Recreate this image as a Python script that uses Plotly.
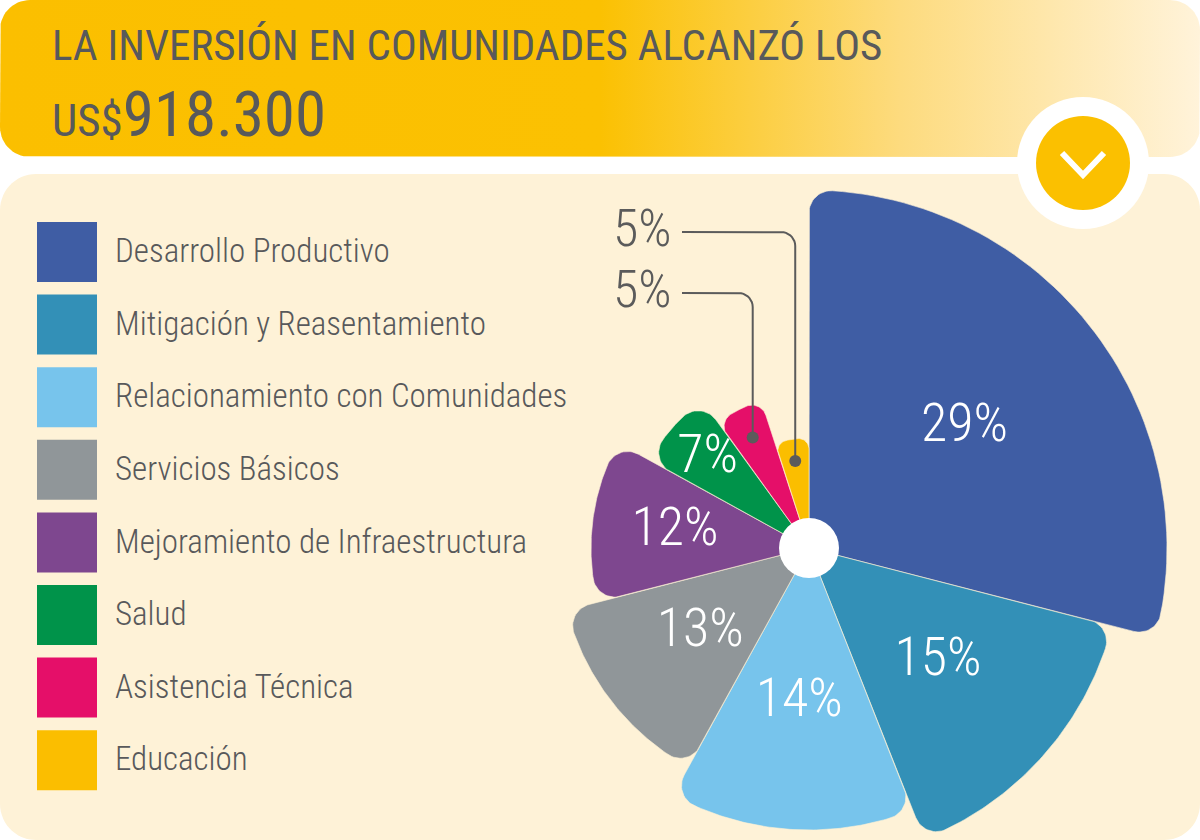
import numpy as np
import plotly.graph_objects as go

# ---------------- data ----------------
categories = ["Desarrollo Productivo", "Mitigación y Reasentamiento",
              "Relacionamiento con Comunidades", "Servicios Básicos",
              "Mejoramiento de Infraestructura", "Salud",
              "Asistencia Técnica", "Educación"]
shares = [29, 15, 14, 13, 12, 7, 5, 5]
slice_radius = [358, 313, 282, 250, 218, 182, 155, 110]
colors = ["#3F5DA4", "#3390B7", "#77C4EC", "#909699",
          "#7E478F", "#00934A", "#E50F69", "#FBBE00"]
title_line1 = "LA INVERSIÓN EN COMUNIDADES ALCANZÓ LOS"
currency = "US$"
total = "918.300"

FONT = "Roboto Condensed, Roboto, sans-serif"
GRAY = "#58595B"
W, H = 1200, 840
CX, CY = 809, 548   # pie centre in axis units (= pixels)


def rounded_rect(x0, y0, x1, y1, r, n=16):
    xs, ys = [], []
    for cx, cy, a0, a1 in [(x1 - r, y0 + r, -90, 0), (x1 - r, y1 - r, 0, 90),
                           (x0 + r, y1 - r, 90, 180), (x0 + r, y0 + r, 180, 270)]:
        for a in np.linspace(a0, a1, n):
            xs.append(cx + r * np.cos(np.radians(a)))
            ys.append(cy + r * np.sin(np.radians(a)))
    xs.append(xs[0]); ys.append(ys[0])
    return xs, ys


def polar_to_xy(r, t):
    """angle t in degrees, clockwise from 12 o'clock; y axis points down."""
    return CX + r * np.sin(np.radians(t)), CY - r * np.cos(np.radians(t))


def slice_outline(t0, t1, R, rc, n=18):
    def uv(r, t):
        return np.array([r * np.sin(np.radians(t)), r * np.cos(np.radians(t))])

    d = np.degrees(np.arcsin(rc / (R - rc)))
    rt = np.sqrt((R - rc) ** 2 - rc ** 2)

    def fillet(c, pa, pb):
        a1 = np.arctan2(*(pa - c)[::-1])
        a2 = np.arctan2(*(pb - c)[::-1])
        da = (a2 - a1 + np.pi) % (2 * np.pi) - np.pi
        return [c + rc * np.array([np.cos(a1 + da * s), np.sin(a1 + da * s)])
                for s in np.linspace(0, 1, n)]

    pts = [np.array([0.0, 0.0])]
    pts += fillet(uv(R - rc, t0 + d), uv(rt, t0), uv(R, t0 + d))
    pts += [uv(R, t) for t in np.linspace(t0 + d, t1 - d, 60)]
    pts += fillet(uv(R - rc, t1 - d), uv(R, t1 - d), uv(rt, t1))
    pts.append(np.array([0.0, 0.0]))
    pts = np.array(pts)
    return CX + pts[:, 0], CY - pts[:, 1]


fig = go.Figure()

# header with gradient
hx, hy = rounded_rect(0, 0, 1200, 157, 30)
fig.add_trace(go.Scatter(
    x=hx, y=hy, mode="lines", fill="toself", line=dict(width=0),
    fillgradient=dict(type="horizontal", start=0, stop=1200,
                      colorscale=[[0, "#FBBF00"], [0.5, "#FBC102"],
                                  [0.75, "#FDDB7E"], [1, "#FFF3DA"]]),
    hoverinfo="skip", showlegend=False))

# legend (squares + labels)
leg_y = [252 + i * 72.6 for i in range(len(categories))]
fig.add_trace(go.Scatter(
    x=[67] * len(categories), y=leg_y, mode="markers",
    marker=dict(symbol="square", size=60, color=colors, line=dict(width=0)),
    hoverinfo="skip", showlegend=False))
fig.add_trace(go.Scatter(
    x=[115] * len(categories), y=[v + 2 for v in leg_y], mode="text", text=categories,
    textposition="middle right",
    textfont=dict(family=FONT, size=33, color=GRAY, weight=300),
    hoverinfo="skip", showlegend=False))

# pie slices (angle ~ share, individual radius)
cum = np.concatenate([[0], np.cumsum(shares)]) * 3.6
mids = []
for i, (cat, s, R, col) in enumerate(zip(categories, shares, slice_radius, colors)):
    t0, t1 = cum[i], cum[i + 1]
    mids.append((t0 + t1) / 2)
    arc_len = R * np.radians(t1 - t0)
    rc = min(22, 0.3 * arc_len)
    x, y = slice_outline(t0, t1, R, rc)
    fig.add_trace(go.Scatter(
        x=x, y=y, mode="lines", fill="toself", fillcolor=col,
        line=dict(color="rgba(254,242,214,0.6)", width=1),
        hoverinfo="skip", showlegend=False, name=cat))

# centre hole
fig.add_trace(go.Scatter(
    x=[CX], y=[CY], mode="markers",
    marker=dict(size=60, color="white", line=dict(width=0)),
    hoverinfo="skip", showlegend=False))

# inside labels
inside = [s >= 7 for s in shares]
lab_pos = [polar_to_xy(max(0.55 * R, 135), m) for R, m in zip(slice_radius, mids)]
fig.add_trace(go.Scatter(
    x=[p[0] for p, ok in zip(lab_pos, inside) if ok],
    y=[p[1] for p, ok in zip(lab_pos, inside) if ok],
    text=[f"{s}%" for s, ok in zip(shares, inside) if ok],
    mode="text", textposition="middle center",
    textfont=dict(family=FONT, size=54, color="white", weight=300),
    hoverinfo="skip", showlegend=False))

# outside labels for the small slices, with leader lines
outside_idx = [i for i, ok in enumerate(inside) if not ok][::-1]  # Educación on top row
row_y = [232, 293]
annotations = []
dots = [polar_to_xy(0.8 * slice_radius[i], mids[i]) for i in outside_idx]
for k, i in enumerate(outside_idx):
    dx, dy = dots[k]
    yv = row_y[k]
    c = 14
    corner = [(dx - c + c * np.sin(np.radians(a)), yv + c - c * np.cos(np.radians(a)))
              for a in np.linspace(0, 90, 10)]
    lx = [682] + [p[0] for p in corner] + [dx]
    ly = [yv] + [p[1] for p in corner] + [dy]
    fig.add_trace(go.Scatter(x=lx, y=ly, mode="lines",
                             line=dict(color="#5B5B5B", width=2),
                             hoverinfo="skip", showlegend=False))
    annotations.append(dict(x=674, y=yv - 4, xref="x", yref="y",
                            text=f"{shares[i]}%", showarrow=False,
                            xanchor="right", yanchor="middle",
                            font=dict(family=FONT, size=52, color="#5B5B5B", weight=300)))
fig.add_trace(go.Scatter(
    x=[p[0] for p in dots], y=[p[1] for p in dots], mode="markers",
    marker=dict(size=12, color="#5B5B5B"), hoverinfo="skip", showlegend=False))

shapes = []
# body background
bx, by = rounded_rect(0, 174, 1200, 840, 36)
body_path = "M " + " L ".join(f"{x:.1f},{y:.1f}" for x, y in zip(bx, by)) + " Z"
shapes.append(dict(type="path", path=body_path, xref="x", yref="y",
                   fillcolor="#FEF2D7", line=dict(width=0), layer="below"))
# badge
shapes += [
    dict(type="circle", xref="x", yref="y", x0=1017, x1=1149, y0=97, y1=229,
         fillcolor="white", line=dict(width=0), layer="above"),
    dict(type="circle", xref="x", yref="y", x0=1036, x1=1130, y0=116, y1=210,
         fillcolor="#FBC000", line=dict(width=0), layer="above"),
    dict(type="path", xref="x", yref="y", path="M 1062,153 L 1083,175 L 1104,153",
         line=dict(color="white", width=6), layer="above"),
]

# title
annotations += [
    dict(x=50, y=45, xref="x", yref="y", xanchor="left", yanchor="middle",
         text=title_line1, showarrow=False,
         font=dict(family=FONT, size=43, color=GRAY)),
    dict(x=50, y=114, xref="x", yref="y", xanchor="left", yanchor="middle",
         text=f'<span style="font-size:45px">{currency}</span>{total}',
         showarrow=False, font=dict(family=FONT, size=63, color=GRAY)),
]

fig.update_layout(
    width=W, height=H, margin=dict(l=0, r=0, t=0, b=0),
    paper_bgcolor="white", plot_bgcolor="rgba(0,0,0,0)",
    xaxis=dict(range=[0, W], visible=False, domain=[0, 1], fixedrange=True),
    yaxis=dict(range=[H, 0], visible=False, domain=[0, 1], fixedrange=True),
    shapes=shapes, annotations=annotations, showlegend=False,
    dragmode=False,
)

fig.write_html("out.html")
